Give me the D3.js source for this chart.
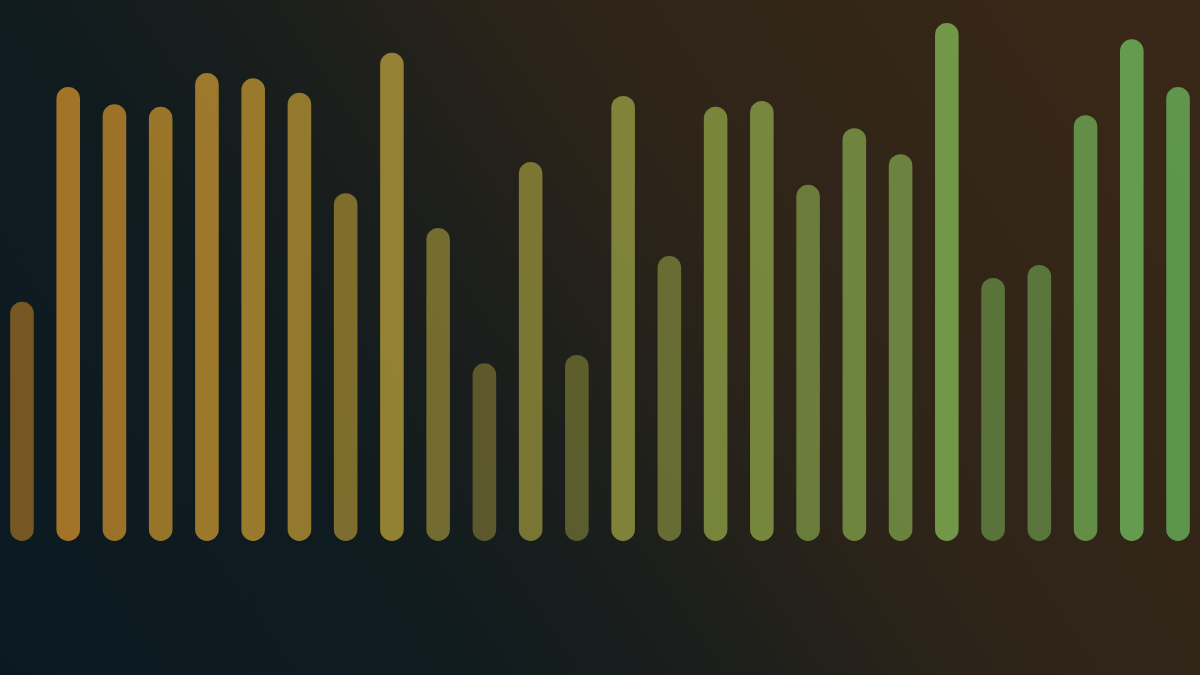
<!DOCTYPE html>
<html>
<head>
<meta charset="utf-8">
<script src="https://cdn.jsdelivr.net/npm/d3@7"></script>
<style>
  html, body { margin: 0; padding: 0; background: #0e1b20; }
  svg { display: block; }
</style>
</head>
<body>
<div id="grafico"></div>
<script>
// valores (26 barras)
const categorias = d3.range(1, 27).map(i => "B" + i);
const valores = [45.8, 87.1, 83.8, 83.3, 89.8, 88.8, 86.0, 66.7, 93.7, 60.0,
                 34.0, 72.7, 35.6, 85.4, 54.6, 83.3, 84.4, 68.3, 79.2, 74.2,
                 99.4, 50.4, 52.9, 81.7, 96.3, 87.1];
const colores = ["#b47a26", "#62a052"];

const ancho = 1200, alto = 675;
const base = 540;

const svg = d3.select("#grafico").append("svg")
    .attr("width", ancho)
    .attr("height", alto);

// fondo degradado diagonal
const defs = svg.append("defs");
const grad = defs.append("linearGradient")
    .attr("id", "fondo")
    .attr("gradientUnits", "userSpaceOnUse")
    .attr("x1", 0).attr("y1", alto)
    .attr("x2", 1142).attr("y2", -87);
const paradas = [[0, "#0b1a22"], [0.27, "#0f1b1f"], [0.42, "#1a1e1c"], [0.6, "#2d2419"], [1, "#3a2816"]];
grad.selectAll("stop")
    .data(paradas)
    .join("stop")
    .attr("offset", d => d[0])
    .attr("stop-color", d => d[1]);

svg.append("rect")
    .attr("width", ancho)
    .attr("height", alto)
    .attr("fill", "url(#fondo)");

const x = d3.scaleBand()
    .domain(categorias)
    .range([0, ancho])
    .paddingInner(0.49)
    .paddingOuter(0.22);

const y = d3.scaleLinear()
    .domain([0, 100])
    .range([base, 20]);

const color = d3.scaleLinear()
    .domain([0, categorias.length - 1])
    .range(colores)
    .interpolate(d3.interpolateRgb);

const opacidad = d3.scaleLinear()
    .domain([0, 100])
    .range([0.33, 1]);

const datos = categorias.map((c, i) => ({ cat: c, valor: valores[i], i: i }));

svg.append("g")
    .selectAll("rect")
    .data(datos)
    .join("rect")
    .attr("x", d => x(d.cat))
    .attr("y", d => y(d.valor))
    .attr("width", x.bandwidth())
    .attr("height", d => base - y(d.valor) + 1)
    .attr("rx", x.bandwidth() / 2)
    .attr("fill", d => color(d.i))
    .attr("fill-opacity", d => opacidad(d.valor));
</script>
</body>
</html>
